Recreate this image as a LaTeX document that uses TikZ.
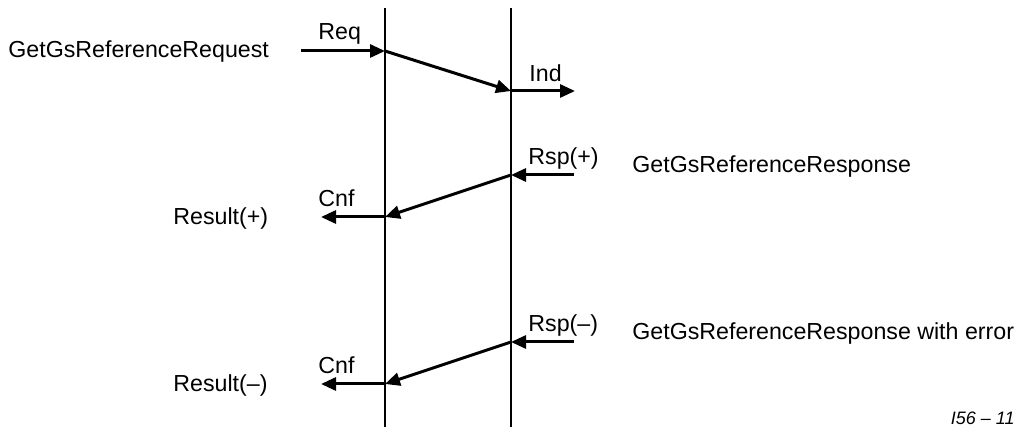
\documentclass[tikz,border=0pt]{standalone}
\usepackage{fontspec}
\setmainfont{Liberation Sans}
\usetikzlibrary{arrows.meta}

\tikzset{
	lifeline/.style={line width=1pt},
	msg/.style={line width=1.5pt,-{Triangle[length=7.5pt,width=6.5pt]}},
	txt/.style={inner sep=0pt,anchor=base west,font=\fontsize{11.6}{13}\selectfont}
}

\begin{document}
\begin{tikzpicture}[x=0.5pt,y=-0.5pt]
		\useasboundingbox (0,0) rectangle (1018,427);
		% lifelines
		\coordinate (Ltop) at (385,8); \coordinate (Lbot) at (385,427);
		\coordinate (Rtop) at (511,8); \coordinate (Rbot) at (511,427);
		\draw[lifeline] (Ltop) -- (Lbot) (Rtop) -- (Rbot);
		% request / indication
		\coordinate (reqin) at (301,51); \coordinate (reqL) at (385,51);
		\coordinate (indR) at (511,91); \coordinate (indout) at (575,91);
		\draw[msg] (reqin) -- (reqL);
		\draw[msg] (reqL) -- (indR);
		\draw[msg] (indR) -- (indout);
		\node[txt] (request) at (8,58) {GetGsReferenceRequest};
		\node[txt] (req) at (318,40) {Req};
		\node[txt] (ind) at (529,82) {Ind};
		% positive response / confirm
		\coordinate (rspin) at (574,175); \coordinate (rspR) at (511,175);
		\coordinate (cnfL) at (385,217); \coordinate (cnfout) at (321,217);
		\draw[msg] (rspin) -- (rspR);
		\draw[msg] (rspR) -- (cnfL);
		\draw[msg] (cnfL) -- (cnfout);
		\node[txt] (rsp) at (528,165) {Rsp(+)};
		\node[txt] (response) at (632,173) {GetGsReferenceResponse};
		\node[txt] (cnf) at (318,207) {Cnf};
		\node[txt] (result) at (173,225) {Result(+)};
		% negative response / confirm
		\coordinate (rspnin) at (574,342); \coordinate (rspnR) at (511,342);
		\coordinate (cnfnL) at (385,384); \coordinate (cnfnout) at (321,384);
		\draw[msg] (rspnin) -- (rspnR);
		\draw[msg] (rspnR) -- (cnfnL);
		\draw[msg] (cnfnL) -- (cnfnout);
		\node[txt] (rspn) at (528,332) {Rsp(–)};
		\node[txt] (responsen) at (632,340) {GetGsReferenceResponse with error};
		\node[txt] (cnfn) at (318,373) {Cnf};
		\node[txt] (resultn) at (173,392) {Result(–)};
		% figure tag
		\node[txt,anchor=south east,font=\fontsize{9}{10}\itshape] (tag) at (1015,425) {I56 – 11};
	\end{tikzpicture}
\end{document}
